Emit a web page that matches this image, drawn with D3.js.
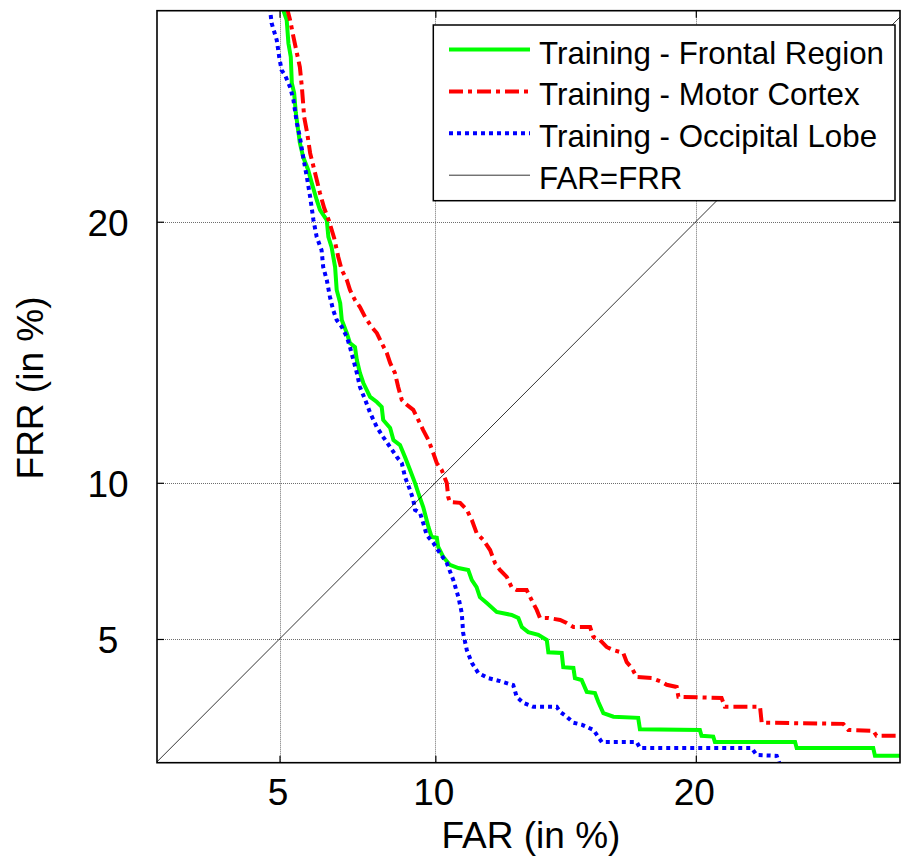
<!DOCTYPE html>
<html>
<head>
<meta charset="utf-8">
<script src="https://cdn.jsdelivr.net/npm/d3@7"></script>
<style>
  html, body { margin: 0; padding: 0; background: #fff; }
  svg { display: block; font-family: "Liberation Sans", Arial, Helvetica, sans-serif; }
</style>
</head>
<body>
<svg id="chart" width="902" height="856"></svg>
<script>
// Tick values on both error-rate axes (in %)
const farTicks = [5, 10, 20];
const frrTicks = [5, 10, 20];

// Frontal region: false accept rate / false reject rate (in %)
const frontalFar = [5.10, 5.21, 5.26, 5.33, 5.36, 5.43, 5.48, 5.60, 5.70, 5.85, 5.96, 6.11, 6.21, 6.42, 6.47, 6.57, 6.68, 6.73, 6.84, 6.89, 7.05, 7.15, 7.31, 7.37, 7.47, 7.58, 7.80, 8.02, 8.18, 8.23, 8.46, 8.57, 8.79, 8.96, 9.13, 9.30, 9.41, 9.58, 9.76, 9.87, 10.05, 10.10, 10.28, 10.51, 10.81, 11.16, 11.29, 11.46, 11.58, 11.83, 12.19, 12.74, 12.99, 13.12, 13.36, 13.74, 14.06, 14.12, 14.63, 14.69, 15.08, 15.14, 15.40, 15.60, 15.92, 16.05, 16.25, 16.65, 17.64, 17.71, 20.17, 20.24, 20.73, 20.80, 24.24, 24.31, 27.72, 27.80, 29.00];
const frontalFrr = [29.30, 28.80, 27.75, 27.13, 25.97, 25.52, 24.64, 23.34, 22.73, 22.18, 21.62, 20.91, 20.49, 20.07, 19.37, 18.95, 18.14, 17.22, 16.70, 16.03, 15.52, 15.13, 14.98, 14.48, 13.99, 13.61, 13.09, 12.90, 12.72, 12.24, 11.95, 11.51, 11.33, 10.90, 10.45, 9.99, 9.65, 9.17, 8.50, 8.17, 8.14, 7.84, 7.51, 7.26, 7.16, 7.10, 6.78, 6.56, 6.25, 6.07, 5.80, 5.71, 5.62, 5.35, 5.20, 5.12, 4.97, 4.62, 4.60, 4.20, 4.18, 3.90, 3.85, 3.53, 3.50, 3.27, 2.98, 2.89, 2.86, 2.58, 2.56, 2.42, 2.40, 2.27, 2.27, 2.13, 2.13, 1.95, 1.95];

// Motor cortex
const motorFar = [5.21, 5.31, 5.41, 5.51, 5.60, 5.66, 5.73, 5.82, 5.91, 6.06, 6.21, 6.34, 6.49, 6.65, 6.78, 6.89, 7.05, 7.15, 7.31, 7.47, 7.64, 7.85, 8.02, 8.18, 8.35, 8.46, 8.62, 8.73, 8.85, 9.02, 9.24, 9.41, 9.58, 9.76, 9.93, 10.05, 10.22, 10.40, 10.45, 10.51, 10.87, 11.11, 11.29, 11.46, 11.70, 11.95, 12.13, 12.31, 12.56, 12.74, 12.93, 13.30, 13.49, 13.68, 13.80, 14.12, 14.57, 14.82, 15.08, 15.73, 15.86, 16.12, 16.38, 16.65, 17.04, 17.18, 17.38, 17.58, 18.19, 18.59, 18.80, 19.21, 19.28, 21.08, 21.22, 22.72, 22.79, 26.37, 26.60, 27.72, 27.87, 29.00];
const motorFrr = [29.40, 28.80, 28.03, 27.31, 26.68, 25.79, 24.46, 23.77, 22.90, 22.05, 21.20, 20.57, 20.03, 19.33, 18.55, 18.02, 17.62, 17.22, 16.82, 16.54, 16.14, 15.76, 15.52, 15.13, 14.75, 14.37, 13.99, 13.46, 12.98, 12.80, 12.61, 12.24, 11.87, 11.51, 11.04, 10.69, 10.45, 9.99, 9.51, 9.34, 9.31, 9.07, 8.73, 8.30, 8.07, 7.74, 7.32, 7.10, 6.88, 6.56, 6.47, 6.47, 6.16, 5.86, 5.62, 5.62, 5.56, 5.47, 5.35, 5.35, 5.06, 4.97, 4.77, 4.68, 4.60, 4.34, 4.18, 3.93, 3.90, 3.80, 3.72, 3.66, 3.40, 3.37, 3.14, 3.14, 2.74, 2.71, 2.56, 2.54, 2.42, 2.42];

// Occipital lobe
const occipitalFar = [4.72, 4.77, 4.92, 4.99, 5.06, 5.16, 5.31, 5.41, 5.51, 5.60, 5.70, 5.81, 5.91, 6.01, 6.11, 6.26, 6.31, 6.42, 6.52, 6.62, 6.73, 6.89, 7.05, 7.15, 7.26, 7.37, 7.47, 7.64, 7.80, 8.02, 8.23, 8.46, 8.68, 8.85, 8.96, 9.13, 9.24, 9.30, 9.47, 9.58, 9.70, 9.93, 10.16, 10.40, 10.63, 10.81, 10.93, 10.98, 11.11, 11.29, 11.52, 11.89, 12.31, 12.80, 12.93, 13.18, 13.55, 14.44, 14.57, 14.82, 15.08, 15.40, 15.86, 16.05, 16.19, 17.58, 17.71, 22.36, 22.57, 23.44, 23.58];
const occipitalFrr = [29.40, 28.67, 27.89, 27.13, 26.54, 26.32, 25.78, 25.21, 24.20, 23.60, 22.73, 21.88, 21.04, 20.07, 19.37, 18.83, 18.14, 17.62, 16.94, 16.42, 16.03, 15.76, 15.37, 14.98, 14.48, 13.99, 13.46, 12.98, 12.50, 11.98, 11.62, 11.26, 10.91, 10.69, 10.20, 9.75, 9.41, 9.07, 8.97, 8.63, 8.23, 7.97, 7.64, 7.32, 6.78, 6.25, 5.77, 5.17, 4.68, 4.32, 4.04, 3.90, 3.82, 3.71, 3.40, 3.24, 3.14, 3.14, 3.01, 2.89, 2.74, 2.69, 2.56, 2.39, 2.27, 2.27, 2.13, 2.13, 1.97, 1.95, 1.75];

const seriesNames = ["Training - Frontal Region", "Training - Motor Cortex", "Training - Occipital Lobe", "FAR=FRR"];

// Plot frame
const plotLeft = 157, plotRight = 900, plotTop = 10.7, plotBottom = 762.7;

const x = d3.scalePow().exponent(0.741).domain([1.816, 28.94]).range([plotLeft, plotRight]);
const y = d3.scalePow().exponent(0.741).domain([1.796, 29.23]).range([plotBottom, plotTop]);

const svg = d3.select("#chart");

svg.append("defs").append("clipPath").attr("id", "plotClip")
  .append("rect").attr("x", plotLeft).attr("y", plotTop)
  .attr("width", plotRight - plotLeft).attr("height", plotBottom - plotTop);

// Dotted grid
const grid = svg.append("g").attr("stroke", "#6e6e6e").attr("stroke-width", 1)
  .attr("stroke-dasharray", "1,1");
grid.selectAll("line.gx").data(farTicks).join("line").attr("class", "gx")
  .attr("x1", d => Math.round(x(d)) + 0.5).attr("x2", d => Math.round(x(d)) + 0.5)
  .attr("y1", plotTop).attr("y2", plotBottom);
grid.selectAll("line.gy").data(frrTicks).join("line").attr("class", "gy")
  .attr("y1", d => Math.round(y(d)) + 0.5).attr("y2", d => Math.round(y(d)) + 0.5)
  .attr("x1", plotLeft).attr("x2", plotRight);

// Curves
const plot = svg.append("g").attr("clip-path", "url(#plotClip)");
const line = d3.line().x(d => x(d[0])).y(d => y(d[1]));
const zip = (a, b) => a.map((v, i) => [v, b[i]]);

const series = [
  { far: frontalFar, frr: frontalFrr, color: "#00ff00", dash: null },
  { far: motorFar, frr: motorFrr, color: "#ff0000", dash: "14,5,4,5" },
  { far: occipitalFar, frr: occipitalFrr, color: "#0000ff", dash: "4,4" }
];

series.forEach(s => {
  plot.append("path")
    .datum(zip(s.far, s.frr))
    .attr("fill", "none")
    .attr("stroke", s.color)
    .attr("stroke-width", 4)
    .attr("stroke-linejoin", "miter")
    .attr("stroke-dasharray", s.dash)
    .attr("d", line);
});

// FAR = FRR reference line
const diag = [1.7, 30];
plot.append("path")
  .datum(diag.map(v => [v, v]))
  .attr("fill", "none").attr("stroke", "#000").attr("stroke-width", 0.8)
  .attr("d", line);

// Axes
const fontSize = 37;
const xAxis = svg.append("g").attr("transform", `translate(0,${plotBottom})`)
  .call(d3.axisBottom(x).tickValues(farTicks).tickFormat(d3.format("d"))
    .tickSizeInner(-7).tickSizeOuter(0).tickPadding(16));
xAxis.select(".domain").remove();
xAxis.selectAll("text").attr("font-size", fontSize).attr("fill", "#000")
  .attr("font-family", "Liberation Sans, Arial, sans-serif").attr("dx", "-2");

const yAxis = svg.append("g").attr("transform", `translate(${plotLeft},0)`)
  .call(d3.axisLeft(y).tickValues(frrTicks).tickFormat(d3.format("d"))
    .tickSizeInner(-7).tickSizeOuter(0));
yAxis.select(".domain").remove();
yAxis.selectAll("text").attr("font-size", fontSize).attr("fill", "#000")
  .attr("font-family", "Liberation Sans, Arial, sans-serif")
  .attr("text-anchor", "middle").attr("x", 108 - plotLeft).attr("dy", "0.36em");

const xTop = svg.append("g").attr("transform", `translate(0,${plotTop})`)
  .call(d3.axisTop(x).tickValues(farTicks).tickFormat("").tickSizeInner(-7).tickSizeOuter(0));
xTop.select(".domain").remove();
const yRight = svg.append("g").attr("transform", `translate(${plotRight},0)`)
  .call(d3.axisRight(y).tickValues(frrTicks).tickFormat("").tickSizeInner(-7).tickSizeOuter(0));
yRight.select(".domain").remove();
svg.selectAll(".tick line").attr("stroke", "#000").attr("stroke-width", 1.2);

// Frame
svg.append("rect").attr("x", plotLeft).attr("y", plotTop)
  .attr("width", plotRight - plotLeft).attr("height", plotBottom - plotTop)
  .attr("fill", "none").attr("stroke", "#000").attr("stroke-width", 1.6);

// Axis titles
svg.append("text").attr("x", 531).attr("y", 848)
  .attr("text-anchor", "middle").attr("font-size", fontSize).attr("fill", "#000")
  .text("FAR (in %)");
svg.append("text").attr("transform", "translate(43,388) rotate(-90)")
  .attr("text-anchor", "middle").attr("font-size", fontSize).attr("fill", "#000")
  .text("FRR (in %)");

// Legend
const legend = svg.append("g");
legend.append("rect").attr("x", 433.3).attr("y", 25).attr("width", 461.7).attr("height", 175.7)
  .attr("fill", "#fff").attr("stroke", "#000").attr("stroke-width", 1.5);
const legendStyles = [
  { color: "#00ff00", dash: null, width: 4 },
  { color: "#ff0000", dash: "14,5,4,5", width: 4 },
  { color: "#0000ff", dash: "4,4", width: 4 },
  { color: "#000", dash: null, width: 0.8 }
];
seriesNames.forEach((name, i) => {
  const base = 63.5 + i * 41.9;
  legend.append("line").attr("x1", 449).attr("x2", 530)
    .attr("y1", base - 14).attr("y2", base - 14)
    .attr("stroke", legendStyles[i].color).attr("stroke-width", legendStyles[i].width)
    .attr("stroke-dasharray", legendStyles[i].dash);
  legend.append("text").attr("x", 539).attr("y", base)
    .attr("font-size", 31.3).attr("fill", "#000").text(name);
});
</script>
</body>
</html>
